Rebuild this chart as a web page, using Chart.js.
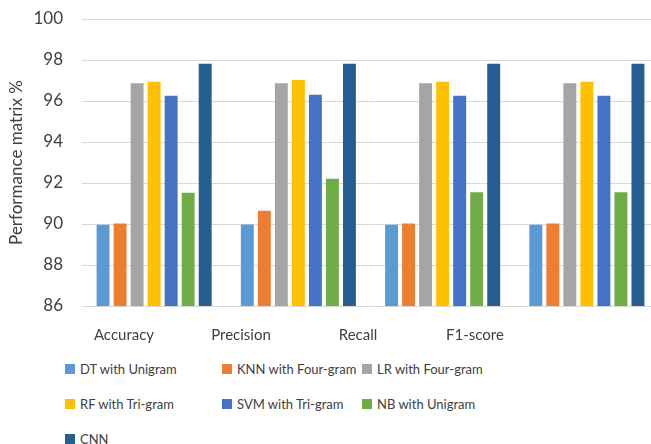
<!DOCTYPE html>
<html>
<head>
<meta charset="utf-8">
<script src="https://cdn.jsdelivr.net/npm/chart.js@4.4.1/dist/chart.umd.min.js"></script>
<style>
  body { margin: 0; background: #fff; }
  #wrap { position: relative; width: 651px; height: 444px; overflow: hidden; }
  #plot { position: absolute; left: 0; top: 0; width: 659px; height: 350px; }
  #legend {
    position: absolute; left: 65px; top: 351px;
    display: grid; grid-template-columns: 157px 140px auto; grid-auto-rows: 35px;
    font-family: Lato, sans-serif; font-size: 13px; color: #404040;
  }
  .item { display: flex; align-items: center; white-space: nowrap; }
  .swatch { width: 10px; height: 10px; margin-right: 5px; display: inline-block; }
</style>
</head>
<body>
<div id="wrap">
  <div id="plot"><canvas id="chart"></canvas></div>
  <div id="legend"></div>
</div>
<script>
// Chart data
const categories = ["Accuracy", "Precision", "Recall", "F1-score"];
const seriesNames = [
  "DT with Unigram",
  "KNN with Four-gram",
  "LR with Four-gram",
  "RF with Tri-gram",
  "SVM with Tri-gram",
  "NB with Unigram",
  "CNN",
];
const dtUnigram = [89.96, 89.98, 89.96, 89.96];
const knnFourgram = [90.03, 90.65, 90.03, 90.03];
const lrFourgram = [96.86, 96.86, 96.86, 96.86];
const rfTrigram = [96.94, 97.02, 96.94, 96.94];
const svmTrigram = [96.26, 96.3, 96.26, 96.26];
const nbUnigram = [91.53, 92.21, 91.55, 91.55];
const cnn = [97.82, 97.82, 97.82, 97.82];
const yTicks = [86, 88, 90, 92, 94, 96, 98, 100];

const seriesValues = [dtUnigram, knnFourgram, lrFourgram, rfTrigram, svmTrigram, nbUnigram, cnn];
const seriesColors = ["#5B9BD5", "#ED7D31", "#A5A5A5", "#FFC000", "#4472C4", "#70AD47", "#255E91"];

const FONT = "Lato, sans-serif";
const CLEAR = "rgba(0,0,0,0)";

// Build the legend as html so the columns line up like the original
const htmlLegend = {
  id: "htmlLegend",
  afterUpdate(chart) {
    const box = document.getElementById("legend");
    box.innerHTML = "";
    chart.data.datasets.forEach((ds) => {
      const item = document.createElement("div");
      item.className = "item";
      const sw = document.createElement("span");
      sw.className = "swatch";
      sw.style.background = ds.backgroundColor;
      item.appendChild(sw);
      item.appendChild(document.createTextNode(ds.label));
      box.appendChild(item);
    });
  },
};

const datasets = seriesNames.map((name, i) => ({
  label: name,
  data: seriesValues[i],
  backgroundColor: seriesColors[i],
  borderWidth: 0,
  categoryPercentage: 0.826,
  barPercentage: 0.76,
}));

new Chart(document.getElementById("chart"), {
  type: "bar",
  data: { labels: categories, datasets },
  plugins: [htmlLegend],
  options: {
    responsive: true,
    maintainAspectRatio: false,
    animation: false,
    devicePixelRatio: 1,
    layout: { padding: { top: 19, right: 0, bottom: 0, left: 0 } },
    plugins: {
      legend: { display: false },
      tooltip: { enabled: false },
    },
    scales: {
      x: {
        type: "category",
        display: false,
        grid: { display: false, color: CLEAR },
        border: { display: false, color: CLEAR },
      },
      // category names sit left of the bar groups in the source picture
      xLabels: {
        type: "linear",
        position: "bottom",
        offset: false,
        min: -0.359,
        max: 4.573,
        grid: { display: false, color: CLEAR, tickColor: CLEAR },
        border: { display: false, color: CLEAR },
        afterBuildTicks: (s) => {
          s.ticks = categories.map((c, i) => ({ value: i }));
        },
        ticks: {
          autoSkip: false,
          maxRotation: 0,
          padding: 12,
          color: "#404040",
          font: { family: FONT, size: 15 },
          callback: (v) => categories[v],
        },
        afterFit: (s) => { s.height = 44; },
      },
      y: {
        min: 86,
        max: 100,
        afterBuildTicks: (s) => {
          s.ticks = yTicks.map((v) => ({ value: v }));
        },
        grid: { color: "#D9D9D9", lineWidth: 1, drawTicks: false },
        border: { display: false, color: CLEAR },
        ticks: {
          padding: 19,
          color: "#404040",
          font: { family: FONT, size: 17 },
        },
        title: {
          display: true,
          text: "Performance matrix %",
          color: "#404040",
          font: { family: FONT, size: 17 },
          padding: { top: 6, bottom: 0 },
        },
        afterFit: (s) => {
          s.width = 82;
          s.paddingTop = 0;
          s.paddingBottom = 0;
        },
      },
    },
  },
});
</script>
</body>
</html>
